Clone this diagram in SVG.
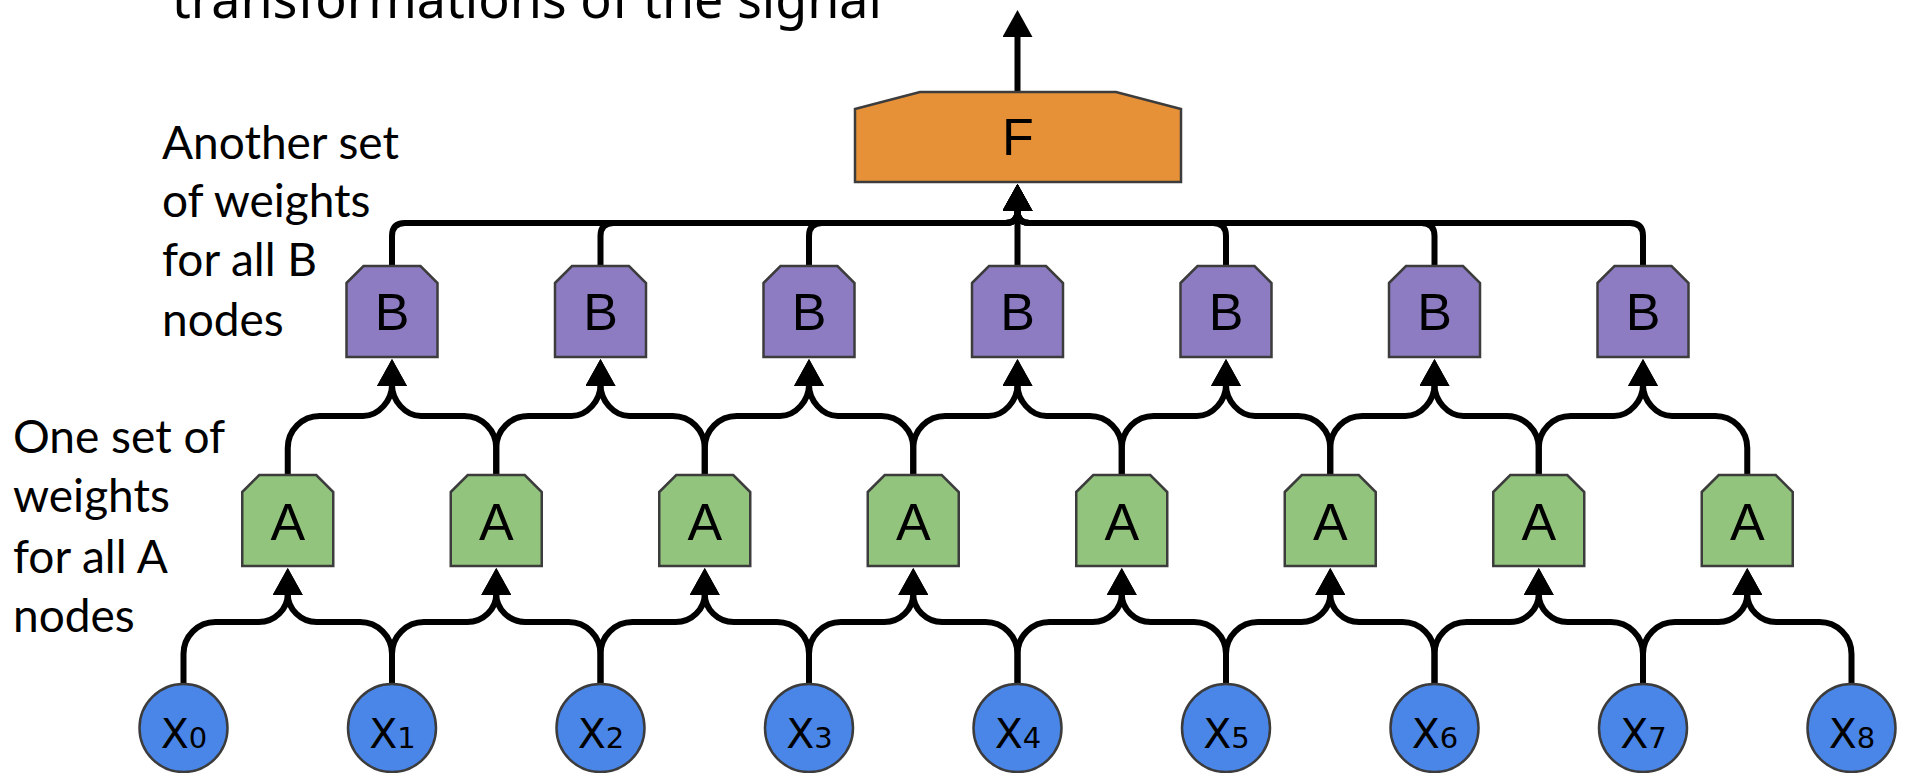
<svg xmlns="http://www.w3.org/2000/svg" width="1905" height="773" viewBox="0 0 1905 773">
<style>
.c{fill:none;stroke:#000;stroke-width:6;marker-end:url(#ah)}
.nd{stroke:#3c3c3c;stroke-width:2.5}
.na{fill:#93c47d}
.nb{fill:#8e7cc3}
.nf{fill:#e69138}
.nx{fill:#4a86e8}
.lab{font-family:"Liberation Sans",Arial,sans-serif;font-size:52px;fill:#000;text-anchor:middle}
.xl{font-family:"DejaVu Sans",sans-serif;font-size:41px;fill:#000;text-anchor:middle}
.xl tspan{font-size:29px}
.side{font-family:Lato,"Noto Sans",sans-serif;font-size:46px;fill:#000}
.top{font-family:"Noto Sans",sans-serif;font-size:52px;fill:#000}
</style>
<defs>
<marker id="ah" markerUnits="userSpaceOnUse" viewBox="0 0 27 30" markerWidth="27" markerHeight="30" refX="1" refY="15" orient="auto">
<path d="M0,0 L27,15 L0,30 Z" fill="#000"/>
</marker>
<polygon id="oct" points="-45.5,17 -28.5,0 28.5,0 45.5,17 45.5,91 -45.5,91"/>
</defs>
<text class="top" x="172" y="18">transformations of the signal</text>
<g id="labels">
<text class="side" x="162" y="159">Another set</text>
<text class="side" x="162" y="217">of weights</text>
<text class="side" x="162" y="276">for all B</text>
<text class="side" x="162" y="336">nodes</text>
<text class="side" x="13" y="453">One set of</text>
<text class="side" x="13" y="512">weights</text>
<text class="side" x="13" y="573">for all A</text>
<text class="side" x="13" y="632">nodes</text>
</g>
<g id="connectors">
<path class="c" d="M1017.5,92 V36"/>
<path class="c" d="M392,266 V236 q0,-13 13,-13 H1005.5 q12,0 12,-12 V210"/>
<path class="c" d="M600.5,266 V236 q0,-13 13,-13 H1005.5 q12,0 12,-12 V210"/>
<path class="c" d="M809,266 V236 q0,-13 13,-13 H1005.5 q12,0 12,-12 V210"/>
<path class="c" d="M1017.5,266 V210"/>
<path class="c" d="M1226,266 V236 q0,-13 -13,-13 H1029.5 q-12,0 -12,-12 V210"/>
<path class="c" d="M1434.5,266 V236 q0,-13 -13,-13 H1029.5 q-12,0 -12,-12 V210"/>
<path class="c" d="M1643,266 V236 q0,-13 -13,-13 H1029.5 q-12,0 -12,-12 V210"/>
<path class="c" d="M287.75,476 v-28 c0,-17.7 14.3,-32 32,-32 h43.25 c16,0 29,-16 29,-31"/>
<path class="c" d="M496.25,476 v-28 c0,-17.7 -14.3,-32 -32,-32 h-43.25 c-16,0 -29,-16 -29,-31"/>
<path class="c" d="M496.25,476 v-28 c0,-17.7 14.3,-32 32,-32 h43.25 c16,0 29,-16 29,-31"/>
<path class="c" d="M704.75,476 v-28 c0,-17.7 -14.3,-32 -32,-32 h-43.25 c-16,0 -29,-16 -29,-31"/>
<path class="c" d="M704.75,476 v-28 c0,-17.7 14.3,-32 32,-32 h43.25 c16,0 29,-16 29,-31"/>
<path class="c" d="M913.25,476 v-28 c0,-17.7 -14.3,-32 -32,-32 h-43.25 c-16,0 -29,-16 -29,-31"/>
<path class="c" d="M913.25,476 v-28 c0,-17.7 14.3,-32 32,-32 h43.25 c16,0 29,-16 29,-31"/>
<path class="c" d="M1121.75,476 v-28 c0,-17.7 -14.3,-32 -32,-32 h-43.25 c-16,0 -29,-16 -29,-31"/>
<path class="c" d="M1121.75,476 v-28 c0,-17.7 14.3,-32 32,-32 h43.25 c16,0 29,-16 29,-31"/>
<path class="c" d="M1330.25,476 v-28 c0,-17.7 -14.3,-32 -32,-32 h-43.25 c-16,0 -29,-16 -29,-31"/>
<path class="c" d="M1330.25,476 v-28 c0,-17.7 14.3,-32 32,-32 h43.25 c16,0 29,-16 29,-31"/>
<path class="c" d="M1538.75,476 v-28 c0,-17.7 -14.3,-32 -32,-32 h-43.25 c-16,0 -29,-16 -29,-31"/>
<path class="c" d="M1538.75,476 v-28 c0,-17.7 14.3,-32 32,-32 h43.25 c16,0 29,-16 29,-31"/>
<path class="c" d="M1747.25,476 v-28 c0,-17.7 -14.3,-32 -32,-32 h-43.25 c-16,0 -29,-16 -29,-31"/>
<path class="c" d="M183.5,685 v-31 c0,-17.7 14.3,-32 32,-32 h43.25 c16,0 29,-13 29,-28"/>
<path class="c" d="M392,685 v-31 c0,-17.7 -14.3,-32 -32,-32 h-43.25 c-16,0 -29,-13 -29,-28"/>
<path class="c" d="M392,685 v-31 c0,-17.7 14.3,-32 32,-32 h43.25 c16,0 29,-13 29,-28"/>
<path class="c" d="M600.5,685 v-31 c0,-17.7 -14.3,-32 -32,-32 h-43.25 c-16,0 -29,-13 -29,-28"/>
<path class="c" d="M600.5,685 v-31 c0,-17.7 14.3,-32 32,-32 h43.25 c16,0 29,-13 29,-28"/>
<path class="c" d="M809,685 v-31 c0,-17.7 -14.3,-32 -32,-32 h-43.25 c-16,0 -29,-13 -29,-28"/>
<path class="c" d="M809,685 v-31 c0,-17.7 14.3,-32 32,-32 h43.25 c16,0 29,-13 29,-28"/>
<path class="c" d="M1017.5,685 v-31 c0,-17.7 -14.3,-32 -32,-32 h-43.25 c-16,0 -29,-13 -29,-28"/>
<path class="c" d="M1017.5,685 v-31 c0,-17.7 14.3,-32 32,-32 h43.25 c16,0 29,-13 29,-28"/>
<path class="c" d="M1226,685 v-31 c0,-17.7 -14.3,-32 -32,-32 h-43.25 c-16,0 -29,-13 -29,-28"/>
<path class="c" d="M1226,685 v-31 c0,-17.7 14.3,-32 32,-32 h43.25 c16,0 29,-13 29,-28"/>
<path class="c" d="M1434.5,685 v-31 c0,-17.7 -14.3,-32 -32,-32 h-43.25 c-16,0 -29,-13 -29,-28"/>
<path class="c" d="M1434.5,685 v-31 c0,-17.7 14.3,-32 32,-32 h43.25 c16,0 29,-13 29,-28"/>
<path class="c" d="M1643,685 v-31 c0,-17.7 -14.3,-32 -32,-32 h-43.25 c-16,0 -29,-13 -29,-28"/>
<path class="c" d="M1643,685 v-31 c0,-17.7 14.3,-32 32,-32 h43.25 c16,0 29,-13 29,-28"/>
<path class="c" d="M1851.5,685 v-31 c0,-17.7 -14.3,-32 -32,-32 h-43.25 c-16,0 -29,-13 -29,-28"/>
</g>
<g id="F"><polygon class="nd nf" points="855,109 920,92 1116,92 1181,109 1181,182 855,182"/><text class="lab" x="1018" y="155">F</text></g>
<g id="B0"><use href="#oct" class="nd nb" x="392" y="266"/><text class="lab" x="392" y="330">B</text></g>
<g id="B1"><use href="#oct" class="nd nb" x="600.5" y="266"/><text class="lab" x="600.5" y="330">B</text></g>
<g id="B2"><use href="#oct" class="nd nb" x="809" y="266"/><text class="lab" x="809" y="330">B</text></g>
<g id="B3"><use href="#oct" class="nd nb" x="1017.5" y="266"/><text class="lab" x="1017.5" y="330">B</text></g>
<g id="B4"><use href="#oct" class="nd nb" x="1226" y="266"/><text class="lab" x="1226" y="330">B</text></g>
<g id="B5"><use href="#oct" class="nd nb" x="1434.5" y="266"/><text class="lab" x="1434.5" y="330">B</text></g>
<g id="B6"><use href="#oct" class="nd nb" x="1643" y="266"/><text class="lab" x="1643" y="330">B</text></g>
<g id="A0"><use href="#oct" class="nd na" x="287.75" y="475"/><text class="lab" x="287.75" y="540">A</text></g>
<g id="A1"><use href="#oct" class="nd na" x="496.25" y="475"/><text class="lab" x="496.25" y="540">A</text></g>
<g id="A2"><use href="#oct" class="nd na" x="704.75" y="475"/><text class="lab" x="704.75" y="540">A</text></g>
<g id="A3"><use href="#oct" class="nd na" x="913.25" y="475"/><text class="lab" x="913.25" y="540">A</text></g>
<g id="A4"><use href="#oct" class="nd na" x="1121.75" y="475"/><text class="lab" x="1121.75" y="540">A</text></g>
<g id="A5"><use href="#oct" class="nd na" x="1330.25" y="475"/><text class="lab" x="1330.25" y="540">A</text></g>
<g id="A6"><use href="#oct" class="nd na" x="1538.75" y="475"/><text class="lab" x="1538.75" y="540">A</text></g>
<g id="A7"><use href="#oct" class="nd na" x="1747.25" y="475"/><text class="lab" x="1747.25" y="540">A</text></g>
<g id="X0"><circle class="nd nx" cx="183.5" cy="728" r="44"/><text class="xl" x="184" y="748">X<tspan>0</tspan></text></g>
<g id="X1"><circle class="nd nx" cx="392" cy="728" r="44"/><text class="xl" x="392.5" y="748">X<tspan>1</tspan></text></g>
<g id="X2"><circle class="nd nx" cx="600.5" cy="728" r="44"/><text class="xl" x="601" y="748">X<tspan>2</tspan></text></g>
<g id="X3"><circle class="nd nx" cx="809" cy="728" r="44"/><text class="xl" x="809.5" y="748">X<tspan>3</tspan></text></g>
<g id="X4"><circle class="nd nx" cx="1017.5" cy="728" r="44"/><text class="xl" x="1018" y="748">X<tspan>4</tspan></text></g>
<g id="X5"><circle class="nd nx" cx="1226" cy="728" r="44"/><text class="xl" x="1226.5" y="748">X<tspan>5</tspan></text></g>
<g id="X6"><circle class="nd nx" cx="1434.5" cy="728" r="44"/><text class="xl" x="1435" y="748">X<tspan>6</tspan></text></g>
<g id="X7"><circle class="nd nx" cx="1643" cy="728" r="44"/><text class="xl" x="1643.5" y="748">X<tspan>7</tspan></text></g>
<g id="X8"><circle class="nd nx" cx="1851.5" cy="728" r="44"/><text class="xl" x="1852" y="748">X<tspan>8</tspan></text></g>
</svg>
